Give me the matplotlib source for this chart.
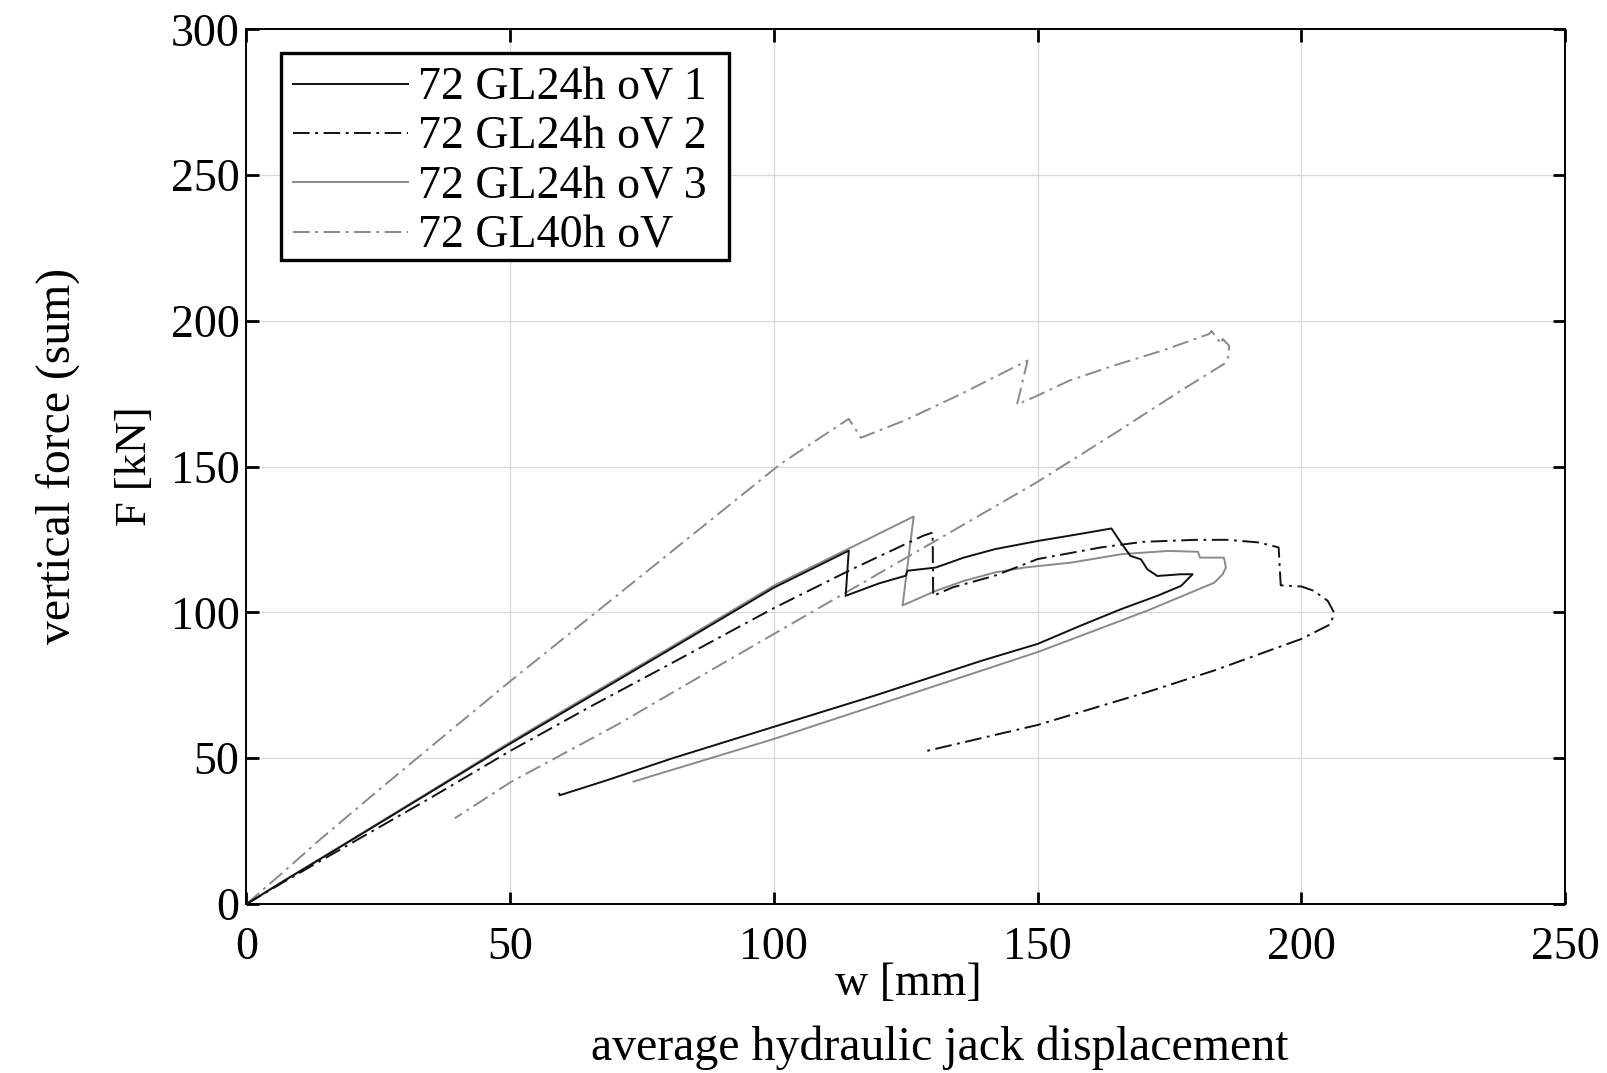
import matplotlib
matplotlib.use("Agg")
import matplotlib.pyplot as plt
from matplotlib.patches import Rectangle

plt.rcParams['font.family'] = ['Liberation Serif', 'DejaVu Serif']
plt.rcParams['lines.scale_dashes'] = False

# ---- data ----
labels = ["72 GL24h oV 1", "72 GL24h oV 2", "72 GL24h oV 3", "72 GL40h oV"]

x1 = [0, 7, 20, 35, 50, 65, 80, 100, 114.2, 113.6, 120, 125, 125.3, 130.7, 136, 141.9,
      150, 157, 164, 166, 167.6, 169.6, 170.8, 172.7, 177.2, 179.4, 177.2, 172.7, 165.8, 158.2,
      150, 139.5, 119.5, 99.5, 80.8, 68.1, 59.4, 59.3]
y1 = [0, 7.8, 22, 38.5, 55, 71, 87, 108.5, 121.2, 105.7, 110, 112.6, 114.3, 115.4, 118.8, 121.7,
      124.5, 126.6, 128.8, 123.4, 119.4, 118.2, 114.8, 112.5, 113.1, 113.1, 109.1, 105.7, 101.1, 95.5,
      89.2, 83.5, 71.7, 60.5, 50, 42.3, 37.3, 37.8]

x2 = [0, 7, 20, 35, 50, 65, 80, 100, 115, 128.3, 130.1, 130.2, 133.9, 141.9, 150, 162, 169.9,
      180, 186, 192, 195.7, 196.1, 200, 202.4, 205, 206.2, 205.6, 200, 183.5, 170.8, 150, 128.5]
y2 = [0, 7.5, 21, 36.5, 52.5, 67.5, 82, 101.5, 115, 126.3, 127.4, 105.7, 108.6, 112.6, 118.3, 122.3, 124.2,
      124.9, 124.9, 124, 122.3, 109.3, 108.9, 107.4, 104, 100, 96, 90.9, 80.1, 72.7, 61.4, 52.3]

x3 = [0, 7, 20, 35, 50, 65, 80, 100, 114.2, 126.5, 124.4, 130.7, 136, 141.9, 147.5, 156.4, 166,
      174.8, 180.4, 180.8, 185.3, 185.4, 185.7, 185.1, 183.5, 170.8, 150, 125.2, 100, 73.4]
y3 = [0, 7.9, 22.2, 38.8, 55.5, 71.6, 87.6, 109.2, 121.9, 132.9, 102.4, 107.4, 110.8, 113.7, 115.4, 117.1, 120,
      121.1, 120.8, 118.8, 118.8, 118.2, 115.4, 113.1, 110.2, 100.6, 86.4, 71.6, 56.6, 42.0]

x4 = [0, 7, 14, 25, 35, 50, 65, 80, 101.3, 114.2, 116.5, 125, 135, 148.1, 146.1, 149.3, 156,
      164.5, 174, 182.5, 183, 184.8, 185.1, 186.3, 186.3, 185.4, 177.2, 164.5, 150, 130.4, 108.9,
      85.7, 70, 50, 39.5]
y4 = [0, 11, 22.2, 39, 54, 76.4, 98.2, 120, 151, 166.4, 159.9, 166, 174.5, 186.4, 171.3, 173.8, 179.5,
      184.7, 190, 195.5, 196.5, 192.1, 193.8, 191.5, 188.1, 185.3, 176.1, 161.3, 144.8, 124.3, 101.9,
      77.7, 61.2, 41.7, 29.4]

xticks = [0, 50, 100, 150, 200, 250]
yticks = [0, 50, 100, 150, 200, 250, 300]

# ---- figure ----
W, H = 1607, 1073
fig = plt.figure(figsize=(W / 100, H / 100), dpi=100)
ax = fig.add_axes([246.5 / W, 1 - 904 / H, (1565 - 246.5) / W, (904 - 29.3) / H])

dashdot = (0, (12, 4, 2, 4))
ax.plot(x1, y1, color='#111111', lw=1.4, ls='-', label=labels[0], zorder=4)
ax.plot(x2, y2, color='#111111', lw=1.4, ls=dashdot, label=labels[1], zorder=4)
ax.plot(x3, y3, color='#8a8a8a', lw=1.4, ls='-', label=labels[2], zorder=3)
ax.plot(x4, y4, color='#8a8a8a', lw=1.4, ls=dashdot, label=labels[3], zorder=3)

ax.set_xlim(0, 250)
ax.set_ylim(0, 300)
ax.set_xticks(xticks)
ax.set_yticks(yticks)
ax.grid(True, color='#d8d8d8', lw=0.9, zorder=0)
ax.set_axisbelow(True)
for s in ax.spines.values():
    s.set_linewidth(1.4)
ax.tick_params(direction='in', length=9, width=2.0, top=True, right=True, labelsize=33)
ax.tick_params(axis='x', pad=16)
ax.tick_params(axis='y', pad=5)

fig.text(908 / W, 1 - 984 / H, "w [mm]", ha='center', va='center', fontsize=33)
fig.text(940 / W, 1 - 1047.5 / H, "average hydraulic jack displacement", ha='center', va='center', fontsize=34.5)
fig.text(135 / W, 1 - 466 / H, "F [kN]", ha='center', va='center', rotation=90, fontsize=32)
fig.text(57.5 / W, 1 - 456 / H, "vertical force (sum)", ha='center', va='center', rotation=90, fontsize=34.3)

# legend frame drawn as a separate box
bx0, by0, bx1, by1 = 280.5, 53.5, 729.0, 260.0
frame = Rectangle((bx0 / W, 1 - by1 / H), (bx1 - bx0) / W, (by1 - by0) / H,
                  transform=fig.transFigure, facecolor='white', edgecolor='black',
                  lw=2.4, zorder=8, clip_on=False)
fig.patches.append(frame)

leg = ax.legend(loc='upper left', bbox_to_anchor=(279.3 / W, 1 - 53.3 / H),
                bbox_transform=fig.transFigure, borderaxespad=0, fontsize=33,
                frameon=False, handlelength=2.5, handletextpad=0.22,
                borderpad=0.3, labelspacing=0.15)
leg.set_zorder(10)
fig.legends.append(leg) if False else None
leg.remove()
fig.add_artist(leg)

fig.savefig("out.png", dpi=100)
